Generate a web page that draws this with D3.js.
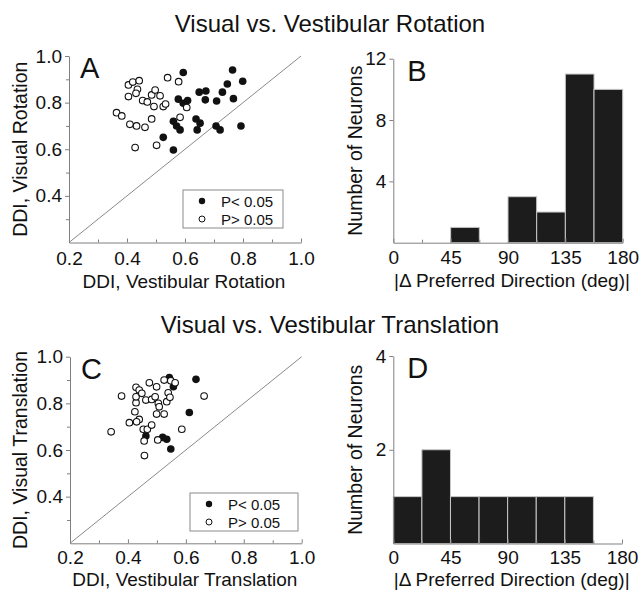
<!DOCTYPE html>
<html>
<head>
<meta charset="utf-8">
<script src="https://cdn.jsdelivr.net/npm/d3@7"></script>
<style>
  body { margin: 0; background: #fff; }
  svg { display: block; font-family: Arial, "Liberation Sans", sans-serif; }
</style>
</head>
<body>
<div id="chart"></div>
<script>
// rotation: DDI vestibular (x) vs visual (y)
const rotSigX = [0.594, 0.577, 0.594, 0.609, 0.56, 0.571, 0.583, 0.525, 0.56, 0.638, 0.652, 0.642,
  0.649, 0.672, 0.67, 0.709, 0.729, 0.746, 0.764, 0.799, 0.767, 0.707, 0.721, 0.793];
const rotSigY = [0.929, 0.815, 0.797, 0.809, 0.72, 0.70, 0.683, 0.651, 0.597, 0.73, 0.712, 0.683,
  0.845, 0.85, 0.812, 0.807, 0.845, 0.88, 0.94, 0.892, 0.817, 0.70, 0.683, 0.70];
const rotNsX = [0.405, 0.42, 0.442, 0.436, 0.431, 0.405, 0.454, 0.47, 0.485, 0.497, 0.514, 0.493, 0.525,
  0.533, 0.364, 0.382, 0.41, 0.433, 0.462, 0.485, 0.428, 0.502, 0.54, 0.578, 0.583, 0.606];
const rotNsY = [0.876, 0.888, 0.894, 0.857, 0.84, 0.826, 0.809, 0.803, 0.833, 0.854, 0.829, 0.783, 0.783,
  0.794, 0.757, 0.743, 0.707, 0.70, 0.694, 0.73, 0.607, 0.617, 0.907, 0.89, 0.737, 0.779];

// translation
const trSigX = [0.543, 0.557, 0.635, 0.612, 0.462, 0.52, 0.534, 0.548];
const trSigY = [0.911, 0.871, 0.903, 0.761, 0.66, 0.654, 0.646, 0.604];
const trNsX = [0.342, 0.378, 0.405, 0.424, 0.428, 0.428, 0.428, 0.439, 0.448, 0.439, 0.43, 0.462, 0.453,
  0.467, 0.456, 0.457, 0.474, 0.482, 0.482, 0.499, 0.494, 0.505, 0.508, 0.499, 0.525, 0.503, 0.525,
  0.534, 0.539, 0.545, 0.548, 0.563, 0.586, 0.663];
const trNsY = [0.678, 0.831, 0.717, 0.764, 0.803, 0.828, 0.869, 0.857, 0.843, 0.731, 0.721, 0.814, 0.689,
  0.689, 0.639, 0.576, 0.888, 0.707, 0.817, 0.871, 0.828, 0.80, 0.785, 0.754, 0.754, 0.643, 0.90,
  0.807, 0.845, 0.826, 0.897, 0.888, 0.689, 0.831];

// histograms of |delta preferred direction|
const binStarts = [0, 22.5, 45, 67.5, 90, 112.5, 135, 157.5];
const binWidth = 22.5;
const rotCounts = [0, 0, 1, 0, 3, 2, 11, 10];
const trCounts = [1, 2, 1, 1, 1, 1, 1, 0];

const ddiTicks = [0.2, 0.4, 0.6, 0.8, 1.0];
const ddiYTicks = [0.4, 0.6, 0.8, 1.0];
const ddiMinor = [0.3, 0.5, 0.7, 0.9];
const angTicks = [0, 45, 90, 135, 180];
const angMinor = [22.5, 67.5, 112.5, 157.5];

const W = 640, H = 590;
const svg = d3.select("#chart").append("svg").attr("width", W).attr("height", H);

const axisCol = "#808080";

function styleAxis(g) {
  g.select(".domain").attr("stroke", axisCol);
  g.selectAll(".tick line").attr("stroke", axisCol);
  g.selectAll(".tick text").attr("fill", "#111").style("font-size", "19px");
}

function addAxes(x, y, xt, xm, yt, ym, fmt, pad) {
  const y0 = y.range()[0], x0 = x.range()[0];
  const gx = svg.append("g").attr("transform", `translate(0,${y0})`)
    .call(d3.axisBottom(x).tickValues(xt).tickFormat(fmt).tickSizeInner(-4).tickSizeOuter(0).tickPadding(pad));
  styleAxis(gx);
  const gxm = svg.append("g").attr("transform", `translate(0,${y0})`)
    .call(d3.axisBottom(x).tickValues(xm).tickFormat("").tickSizeInner(-3).tickSizeOuter(0));
  gxm.select(".domain").remove();
  gxm.selectAll(".tick line").attr("stroke", axisCol);

  const gy = svg.append("g").attr("transform", `translate(${x0},0)`)
    .call(d3.axisLeft(y).tickValues(yt).tickFormat(fmt).tickSizeInner(4).tickSizeOuter(0).tickPadding(3));
  styleAxis(gy);
  if (ym.length) {
    const gym = svg.append("g").attr("transform", `translate(${x0},0)`)
      .call(d3.axisLeft(y).tickValues(ym).tickFormat("").tickSizeInner(3).tickSizeOuter(0));
    gym.select(".domain").remove();
    gym.selectAll(".tick line").attr("stroke", axisCol);
  }
  svg.selectAll("g text").attr("font-family", null);
}

function label(txt, x, y, size, rot) {
  const t = svg.append("text").attr("text-anchor", "middle").attr("fill", "#111")
    .style("font-size", size + "px").text(txt);
  if (rot) t.attr("transform", `translate(${x},${y}) rotate(-90)`);
  else t.attr("x", x).attr("y", y);
  return t;
}

function scatter(cfg) {
  const x = d3.scaleLinear().domain([0.2, 1.0]).range(cfg.xr);
  const y = d3.scaleLinear().domain([0.2, 1.0]).range(cfg.yr);
  addAxes(x, y, ddiTicks, ddiMinor, ddiYTicks, ddiMinor, d3.format(".1f"), cfg.pad);

  svg.append("line")
    .attr("x1", x(0.2)).attr("y1", y(0.2)).attr("x2", x(1.0)).attr("y2", y(1.0))
    .attr("stroke", "#8a8a8a").attr("stroke-width", 1);

  const sig = cfg.sx.map((v, i) => ({x: v, y: cfg.sy[i]}));
  const ns = cfg.nx.map((v, i) => ({x: v, y: cfg.ny[i]}));
  svg.append("g").selectAll("circle").data(sig).join("circle")
    .attr("cx", d => x(d.x)).attr("cy", d => y(d.y)).attr("r", 3.8)
    .attr("fill", "#111");
  svg.append("g").selectAll("circle").data(ns).join("circle")
    .attr("cx", d => x(d.x)).attr("cy", d => y(d.y)).attr("r", 3.3)
    .attr("fill", "#fff").attr("stroke", "#111").attr("stroke-width", 1.1);

  // legend
  const lg = svg.append("g").attr("transform", `translate(${cfg.leg[0]},${cfg.leg[1]})`);
  lg.append("rect").attr("width", cfg.leg[2]).attr("height", 38)
    .attr("fill", "#fff").attr("stroke", "#8a8a8a");
  lg.append("circle").attr("cx", 19).attr("cy", 11).attr("r", 3.2).attr("fill", "#111");
  lg.append("circle").attr("cx", 19).attr("cy", 29).attr("r", 3).attr("fill", "#fff").attr("stroke", "#111");
  lg.append("text").attr("x", 38).attr("y", 17).style("font-size", "15px").attr("fill", "#111").text("P< 0.05");
  lg.append("text").attr("x", 38).attr("y", 35).style("font-size", "15px").attr("fill", "#111").text("P> 0.05");

  label(cfg.xlab, (cfg.xr[0] + cfg.xr[1]) / 2 - 1, cfg.xlabY, 19);
  label(cfg.ylab, 27, (cfg.yr[0] + cfg.yr[1]) / 2, 19.5, true);
  svg.append("text").attr("x", cfg.xr[0] + 11).attr("y", cfg.yr[1] + 22)
    .style("font-size", "29px").attr("fill", "#111").text(cfg.letter);
}

function hist(cfg) {
  const x = d3.scaleLinear().domain([0, 180]).range(cfg.xr);
  const y = d3.scaleLinear().domain([0, cfg.ymax]).range(cfg.yr);
  const bins = binStarts.map((b, i) => ({x0: b, x1: b + binWidth, n: cfg.counts[i]})).filter(d => d.n > 0);
  svg.append("g").selectAll("rect").data(bins).join("rect")
    .attr("x", d => x(d.x0)).attr("width", d => x(d.x1) - x(d.x0))
    .attr("y", d => y(d.n)).attr("height", d => y(0) - y(d.n))
    .attr("fill", "#1c1c1c").attr("stroke", "#c8c8c8").attr("stroke-width", 1);
  addAxes(x, y, angTicks, angMinor, cfg.yt, [], d3.format("d"), cfg.pad);
  label("|\u0394 Preferred Direction (deg)|", (cfg.xr[0] + cfg.xr[1]) / 2 + 4, cfg.xlabY, 19);
  label("Number of Neurons", 362, (cfg.yr[0] + cfg.yr[1]) / 2, 19.5, true);
  svg.append("text").attr("x", cfg.xr[0] + 14).attr("y", cfg.yr[1] + 22)
    .style("font-size", "29px").attr("fill", "#111").text(cfg.letter);
}

label("Visual vs. Vestibular Rotation", 330, 32, 24);
label("Visual vs. Vestibular Translation", 330, 333, 24);

scatter({xr: [69, 301], yr: [242.5, 56], sx: rotSigX, sy: rotSigY, nx: rotNsX, ny: rotNsY, pad: 9, xlabY: 288,
  leg: [183, 190, 100], xlab: "DDI, Vestibular Rotation", ylab: "DDI, Visual Rotation", letter: "A"});
scatter({xr: [70, 301.7], yr: [543.3, 356.7], sx: trSigX, sy: trSigY, nx: trNsX, ny: trNsY, pad: 7.5, xlabY: 585.8,
  leg: [190, 493, 108], xlab: "DDI, Vestibular Translation", ylab: "DDI, Visual Translation", letter: "C"});

hist({xr: [393.3, 622.7], yr: [242.7, 58.7], ymax: 12, yt: [4, 8, 12], counts: rotCounts, letter: "B", pad: 8, xlabY: 287});
hist({xr: [393.3, 622], yr: [543.5, 356], ymax: 4, yt: [2, 4], counts: trCounts, letter: "D", pad: 7.5, xlabY: 585.8});
</script>
</body>
</html>
